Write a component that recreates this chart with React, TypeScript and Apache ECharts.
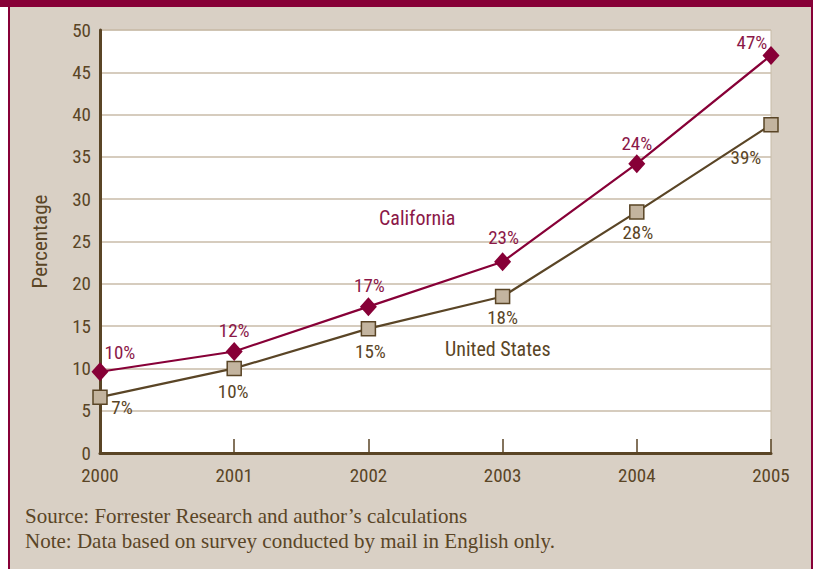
import React, { useEffect, useRef } from "react";
import * as echarts from "echarts";

const years = ["2000", "2001", "2002", "2003", "2004", "2005"];
const californiaValues = [9.6, 12.0, 17.3, 22.6, 34.2, 47.0];
const californiaLabels = ["10%", "12%", "17%", "23%", "24%", "47%"];
const usValues = [6.6, 10.0, 14.7, 18.5, 28.5, 38.8];
const usLabels = ["7%", "10%", "15%", "18%", "28%", "39%"];
const yMin = 0;
const yMax = 50;
const yStep = 5;
const seriesNames = ["California", "United States"];
const axisTitle = "Percentage";
const sourceLine = "Source: Forrester Research and author\u2019s calculations";
const noteLine = "Note: Data based on survey conducted by mail in English only.";

// label offsets (styling)
const caOffsets = [[20, -19], [0, -21], [1, -21], [1, -24], [0, -20], [-19, -13]];
const usOffsets = [[22, 10], [-1, 23], [2, 23], [0, 21], [1, 21], [-25, 33]];

const RED = "#870037";
const BROWN = "#5a4526";
const BEIGE = "#d9d0c5";
const NARROW = "'Liberation Sans Narrow', 'Arial Narrow', 'Roboto Condensed', Roboto, sans-serif";
const SERIF = "'Liberation Serif', 'DejaVu Serif', serif";

export default function App() {
  const ref = useRef<HTMLDivElement>(null);
  useEffect(() => {
    if (!ref.current) return;
    const chart = echarts.init(ref.current, null, { renderer: "svg" });
    chart.setOption({
      animation: false,
      grid: {
        left: 100,
        right: 42,
        top: 30,
        bottom: 116,
        show: true,
        backgroundColor: "#ffffff",
        borderColor: "#c8bba8",
        borderWidth: 1,
      },
      xAxis: {
        type: "category",
        data: years,
        boundaryGap: false,
        axisLine: { lineStyle: { color: BROWN, width: 3 } },
        axisTick: { inside: true, length: 14, lineStyle: { color: BROWN, width: 1.5 } },
        axisLabel: { color: BROWN, fontFamily: NARROW, fontSize: 19, margin: 13 },
        splitLine: { show: false },
      },
      yAxis: {
        type: "value",
        min: yMin,
        max: yMax,
        interval: yStep,
        name: axisTitle,
        nameLocation: "middle",
        nameGap: 50,
        nameTextStyle: { color: BROWN, fontFamily: NARROW, fontSize: 21 },
        axisLine: { show: true, lineStyle: { color: BROWN, width: 3 } },
        axisTick: { show: false },
        axisLabel: { color: BROWN, fontFamily: NARROW, fontSize: 19, margin: 9 },
        splitLine: { lineStyle: { color: "#c8bba8", width: 1.5 } },
      },
      series: [
        {
          name: seriesNames[0],
          type: "line",
          data: californiaValues.map((v, i) => ({
            value: v,
            label: { offset: caOffsets[i] },
          })),
          symbol: "diamond",
          symbolSize: [17, 19],
          lineStyle: { color: RED, width: 2.2 },
          itemStyle: { color: RED },
          z: 3,
          label: {
            show: true,
            position: "inside",
            formatter: (p: any) => californiaLabels[p.dataIndex],
            color: "#8b1848",
            fontFamily: NARROW,
            fontSize: 19,
          },
        },
        {
          name: seriesNames[1],
          type: "line",
          data: usValues.map((v, i) => ({
            value: v,
            label: { offset: usOffsets[i] },
          })),
          symbol: "rect",
          symbolSize: 14,
          lineStyle: { color: BROWN, width: 2.2 },
          itemStyle: { color: "#c3b49f", borderColor: BROWN, borderWidth: 1.5 },
          z: 2,
          label: {
            show: true,
            position: "inside",
            formatter: (p: any) => usLabels[p.dataIndex],
            color: BROWN,
            fontFamily: NARROW,
            fontSize: 19,
          },
        },
      ],
      graphic: [
        {
          type: "text",
          left: 379,
          top: 208,
          style: { text: seriesNames[0], fill: "#8b1848", font: `20px ${NARROW}` },
        },
        {
          type: "text",
          left: 445,
          top: 339,
          style: { text: seriesNames[1], fill: BROWN, font: `20px ${NARROW}` },
        },
        {
          type: "text",
          left: 25,
          top: 505,
          style: { text: sourceLine, fill: BROWN, font: `21px ${SERIF}` },
        },
        {
          type: "text",
          left: 25,
          top: 530,
          style: { text: noteLine, fill: BROWN, font: `21px ${SERIF}` },
        },
      ],
    });
    return () => chart.dispose();
  }, []);

  return (
    <div style={{ position: "fixed", left: 0, top: 0, width: 813, height: 569, background: "#ffffff" }}>
      <div style={{ position: "absolute", left: 10, top: 0, width: 801, height: 569, background: BEIGE }} />
      <div style={{ position: "absolute", left: 8, top: 0, width: 2, height: 569, background: RED }} />
      <div style={{ position: "absolute", left: 811, top: 0, width: 2, height: 569, background: RED }} />
      <div style={{ position: "absolute", left: 0, top: 0, width: 813, height: 7, background: RED }} />
      <div ref={ref} style={{ position: "absolute", left: 0, top: 0, width: 813, height: 569 }} />
    </div>
  );
}
